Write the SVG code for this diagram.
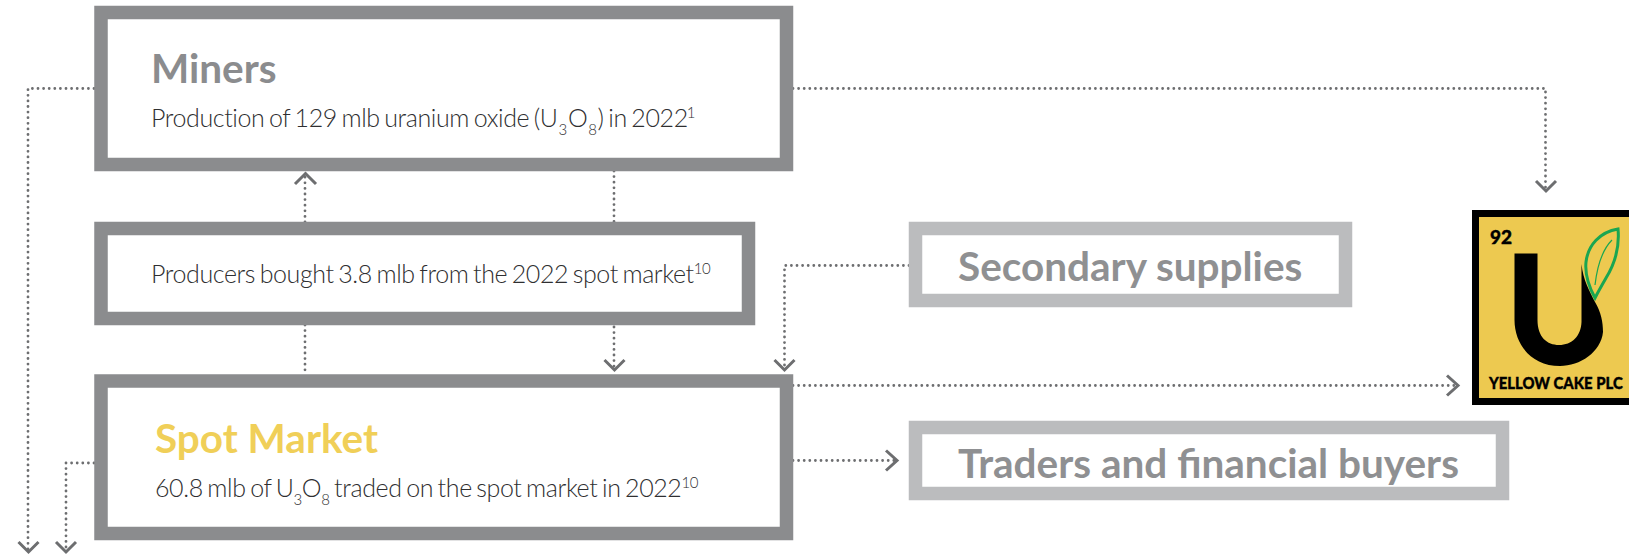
<svg xmlns="http://www.w3.org/2000/svg" width="1629" height="555" viewBox="0 0 1629 555">
<style>
.b{fill:#fff;stroke:#8b8c8e;stroke-width:13.5}
.s{fill:#fff;stroke:#bbbcbe;stroke-width:13.5}
.h{font-family:Lato,"Liberation Sans",sans-serif;font-weight:700;font-size:40.500px}
.t{font-family:Lato,"Liberation Sans",sans-serif;font-weight:300;font-size:25px;letter-spacing:-0.4px;word-spacing:-1.8px;fill:#2f2f31}
.u{font-size:15px}
.d{fill:none;stroke:#6d6e70;stroke-width:2.800;stroke-linecap:round;stroke-dasharray:0 5.600}
.a{fill:none;stroke:#6d6e70;stroke-width:3}
.l{font-family:Lato,"Liberation Sans",sans-serif;font-weight:900;fill:#000;stroke:#000;stroke-width:0.400}
</style>
<rect width="1629" height="555" fill="#fff"/>
<g id="connectors">
<path class="d" d="M94 88.500H28V550"/>
<path class="d" d="M94 463H66V550"/>
<path class="d" d="M793 88.500H1545.500V190"/>
<path class="d" d="M305 222V174"/>
<path class="d" d="M614 171V222"/>
<path class="d" d="M614 327V370"/>
<path class="d" d="M305 325V374"/>
<path class="d" d="M909 265.500H784.500V370"/>
<path class="d" d="M793 385.500H1456"/>
<path class="d" d="M793 460.500H897"/>
<path class="a" d="M18.500 542L28.500 552L38.500 542"/>
<path class="a" d="M56 542L66 552L76 542"/>
<path class="a" d="M1536 181L1546 191L1556 181"/>
<path class="a" d="M295 184L305.500 173.500L316 184"/>
<path class="a" d="M604.500 360L614.500 370L624.500 360"/>
<path class="a" d="M774.500 360L784.500 370L794.500 360"/>
<path class="a" d="M1447 375.500L1458 385.500L1447 395.500"/>
<path class="a" d="M886 450.500L897 460.500L886 470.500"/>
</g>
<g id="miners">
<rect class="b" x="101" y="12.500" width="685.500" height="152"/>
<text class="h" x="151" y="83" fill="#8b8c8e">Miners</text>
<text class="t" x="151" y="127">Production of 129 mlb uranium oxide (U<tspan class="u" dy="8" dx="1">3</tspan><tspan dy="-8" dx="1">O</tspan><tspan class="u" dy="8" dx="1">8</tspan><tspan dy="-8" dx="1">) in 2022</tspan><tspan class="u" dy="-9" dx="-1">1</tspan></text>
</g>
<g id="producers">
<rect class="b" x="101" y="228.500" width="647.500" height="90"/>
<text class="t" x="151" y="283">Producers bought 3.8 mlb from the 2022 spot market<tspan class="u" dy="-9">10</tspan></text>
</g>
<g id="spot-market">
<rect class="b" x="101" y="381" width="685.500" height="152.500"/>
<text class="h" x="155" y="453" fill="#f0cf58">Spot Market</text>
<text class="t" x="155" y="497">60.8 mlb of U<tspan class="u" dy="8">3</tspan><tspan dy="-8">O</tspan><tspan class="u" dy="8">8</tspan><tspan dy="-8"> traded on the spot market in 2022</tspan><tspan class="u" dy="-9">10</tspan></text>
</g>
<g id="secondary-supplies">
<rect class="s" x="915.500" y="228.500" width="430" height="72"/>
<text class="h" x="958" y="281" fill="#8f9092">Secondary supplies</text>
</g>
<g id="traders">
<rect class="s" x="915.500" y="427.500" width="587" height="66"/>
<text class="h" x="958" y="478" fill="#8f9092">Traders and financial buyers</text>
</g>
<g id="yellow-cake">
<rect x="1475.500" y="213.500" width="170" height="188" fill="#edc950" stroke="#000" stroke-width="7"/>
<text class="l" x="1490" y="244" font-size="19">92</text>
<path d="M1514.500 253.500H1537.500V320C1537.500 337 1547 345 1559 345C1572 345 1581 336 1581.500 322L1581.500 264C1583 280 1590 292 1595 302C1601 312 1603 322 1603 332C1601 352 1580 366 1560 366C1532 366 1514.500 345 1514.500 320Z" fill="#000"/>
<path d="M1595 298C1588 285 1585 272 1586 262C1588 245 1600 232 1618 229C1620 250 1614 265 1606 278C1602 285 1598 292 1595 298Z" fill="none" stroke="#1aa651" stroke-width="3"/>
<path d="M1595 285C1597 268 1602 250 1612 240" fill="none" stroke="#1aa651" stroke-width="1.200"/>
<text class="l" transform="translate(1489 389) scale(.85 1)" font-size="17.500">YELLOW CAKE PLC</text>
</g>
</svg>
